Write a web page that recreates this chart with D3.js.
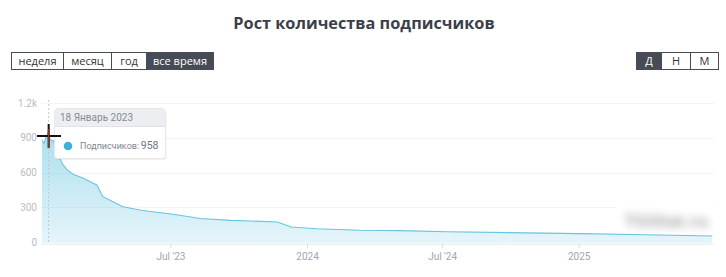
<!DOCTYPE html>
<html><head><meta charset="utf-8">
<script src="https://cdn.jsdelivr.net/npm/d3@7"></script>
<style>
html,body{margin:0;padding:0;background:#fff;}
svg{display:block;font-family:Roboto,"Open Sans",sans-serif;}
</style></head>
<body>
<svg id="c" width="726" height="277"></svg>
<script>
const dates = ["2023-01-09","2023-01-12","2023-01-14","2023-01-18","2023-01-20","2023-01-24","2023-01-27","2023-02-05","2023-02-12","2023-02-20","2023-03-06","2023-03-19","2023-03-24","2023-04-01","2023-04-10","2023-04-28","2023-05-21","2023-06-04","2023-07-05","2023-08-10","2023-09-20","2023-10-17","2023-11-22","2023-12-11","2024-01-14","2024-03-12","2024-05-05","2024-07-08","2025-01-02","2025-04-01","2025-06-30"];
const subscribers = [881,852,895,958,881,875,823,680,622,585,550,507,492,391,363,305,276,263,239,203,187,181,173,130,115,101,98,89,72,63,52];
const yTicks = [0,300,600,900,1200];
const yTickLabels = ["0","300","600","900","1.2k"];
const xTickDates = ["2023-07-01","2024-01-01","2024-07-01","2025-01-01"];
const xTickLabels = ["Jul '23","2024","Jul '24","2025"];
const rangeButtons = ["неделя","месяц","год","все время"];
const groupButtons = ["Д","Н","М"];
const title = "Рост количества подписчиков";
const tooltipDate = "18 Январь 2023";
const tooltipLabel = "Подписчиков:";
const tooltipIndex = 3;

const parse = d3.utcParse("%Y-%m-%d");
const data = dates.map((d,i)=>({date:parse(d), v:subscribers[i]}));
const svg = d3.select("#c");

const x = d3.scaleUtc().domain([parse("2024-01-01"), parse("2025-01-01")]).range([307, 578.7]);
const y = d3.scaleLinear().domain([0,1200]).range([242,103]);

// title
svg.append("text").attr("x",364).attr("y",29).attr("text-anchor","middle")
  .attr("font-family","'Open Sans',sans-serif")
  .attr("font-size",16.3).attr("font-weight",700).attr("fill","#3b3f48").text(title);

// button groups
function buttons(items, x0, widths, activeIdx){
  const g = svg.append("g");
  let cx = x0;
  items.forEach((t,i)=>{
    const w = widths[i];
    g.append("rect").attr("x",cx+0.5).attr("y",52.5).attr("width",w).attr("height",17)
      .attr("fill", i===activeIdx ? "#464b55" : "#fff").attr("stroke","#474c57").attr("stroke-width",1);
    g.append("text").attr("x",cx+w/2+0.5).attr("y",65).attr("text-anchor","middle")
      .attr("font-family","'Open Sans',sans-serif")
      .attr("font-size",11).attr("fill", i===activeIdx ? "#fff" : "#333").text(t);
    cx += w;
  });
}
buttons(rangeButtons, 11, [52,48,35,67], 3);
buttons(groupButtons, 636, [25,29,28], 0);

// gridlines
svg.append("g").selectAll("line").data(yTicks.slice(1)).join("line")
  .attr("x1",41).attr("x2",714).attr("y1",d=>Math.round(y(d))+0.5).attr("y2",d=>Math.round(y(d))+0.5)
  .attr("stroke","#f4f4f4");

// y labels
svg.append("g").selectAll("text").data(yTicks).join("text")
  .attr("x",37).attr("y",d=>y(d)+3.5).attr("text-anchor","end")
  .attr("font-size",10).attr("fill","#b8bcc1").text((d,i)=>yTickLabels[i]);

// x axis
const xa = svg.append("g").attr("transform","translate(0,244)")
  .call(d3.axisBottom(x).tickValues(xTickDates.map(parse)).tickFormat((d,i)=>xTickLabels[i]).tickSize(4).tickPadding(5));
xa.select(".domain").attr("stroke","#eeeeee").attr("d","M41,0.5H714");
xa.selectAll(".tick line").attr("stroke","#dcdcdc");
xa.selectAll(".tick text").attr("fill","#a0a6ae").attr("font-size",10).attr("font-family","Roboto,sans-serif");

// gradient
const defs = svg.append("defs");
const grad = defs.append("linearGradient").attr("id","ag").attr("x1",0).attr("y1",0).attr("x2",0).attr("y2",1);
grad.append("stop").attr("offset","0%").attr("stop-color","#55bedf").attr("stop-opacity",0.5);
grad.append("stop").attr("offset","100%").attr("stop-color","#55bedf").attr("stop-opacity",0.15);
defs.append("filter").attr("id","blur").attr("x","-20%").attr("y","-60%").attr("width","140%").attr("height","220%")
  .append("feGaussianBlur").attr("stdDeviation",4);

const area = d3.area().x(d=>x(d.date)).y0(243.5).y1(d=>y(d.v)).curve(d3.curveLinear);
const line = d3.line().x(d=>x(d.date)).y(d=>y(d.v));
svg.append("path").datum(data).attr("d",area).attr("fill","url(#ag)");
svg.append("path").datum(data).attr("d",line).attr("fill","none").attr("stroke","#68c4e0").attr("stroke-width",1.1);

// blurred watermark
svg.append("rect").attr("x",616).attr("y",207).attr("width",97).attr("height",25).attr("fill","#fff");
svg.append("text").attr("x",666).attr("y",227).attr("text-anchor","middle").attr("font-size",17)
  .attr("font-weight",700).attr("fill","#7a7a7a").attr("filter","url(#blur)").attr("opacity",0.65)
  .attr("textLength",84).attr("lengthAdjust","spacingAndGlyphs").text("TGStat.ru");

// hover line
const hx = x(data[tooltipIndex].date);
svg.append("line").attr("x1",hx).attr("x2",hx).attr("y1",100).attr("y2",244)
  .attr("stroke","#c4c8cc").attr("stroke-dasharray","2,2");

// tooltip
const tg = svg.append("g").attr("transform","translate(54.5,108.5)");
tg.append("rect").attr("x",1).attr("y",1.5).attr("width",111).attr("height",50).attr("rx",3).attr("fill","#000").attr("opacity",0.06);
tg.append("rect").attr("width",111).attr("height",50).attr("rx",3).attr("fill","rgba(255,255,255,0.94)").attr("stroke","#e6e8ea");
tg.append("path").attr("d","M0.5,18 V3 Q0.5,0.5 3,0.5 H108 Q110.5,0.5 110.5,3 V18 Z").attr("fill","#eceef1");
tg.append("line").attr("x1",0).attr("x2",111).attr("y1",18).attr("y2",18).attr("stroke","#e0e2e5");
tg.append("text").attr("x",5.5).attr("y",12.8).attr("font-size",10).attr("fill","#858c96").text(tooltipDate);
tg.append("circle").attr("cx",13.5).attr("cy",37.5).attr("r",4.3).attr("fill","#3bb3d9");
tg.append("text").attr("x",25.5).attr("y",40.5).attr("font-size",9).attr("fill","#7e858f").text(tooltipLabel);
tg.append("text").attr("x",104).attr("y",40.8).attr("text-anchor","end").attr("font-size",10.5).attr("fill","#6d747e").text(data[tooltipIndex].v);

// cursor crosshair
const hy = 136;
svg.append("line").attr("x1",37).attr("x2",61).attr("y1",hy).attr("y2",hy).attr("stroke","#111").attr("stroke-width",2);
svg.append("line").attr("x1",hx).attr("x2",hx).attr("y1",hy-12).attr("y2",hy+12).attr("stroke","#111").attr("stroke-width",2);
svg.append("line").attr("x1",hx).attr("x2",hx).attr("y1",hy-7).attr("y2",hy+12).attr("stroke","#8b3a22").attr("stroke-width",1.6);
</script>
</body></html>
